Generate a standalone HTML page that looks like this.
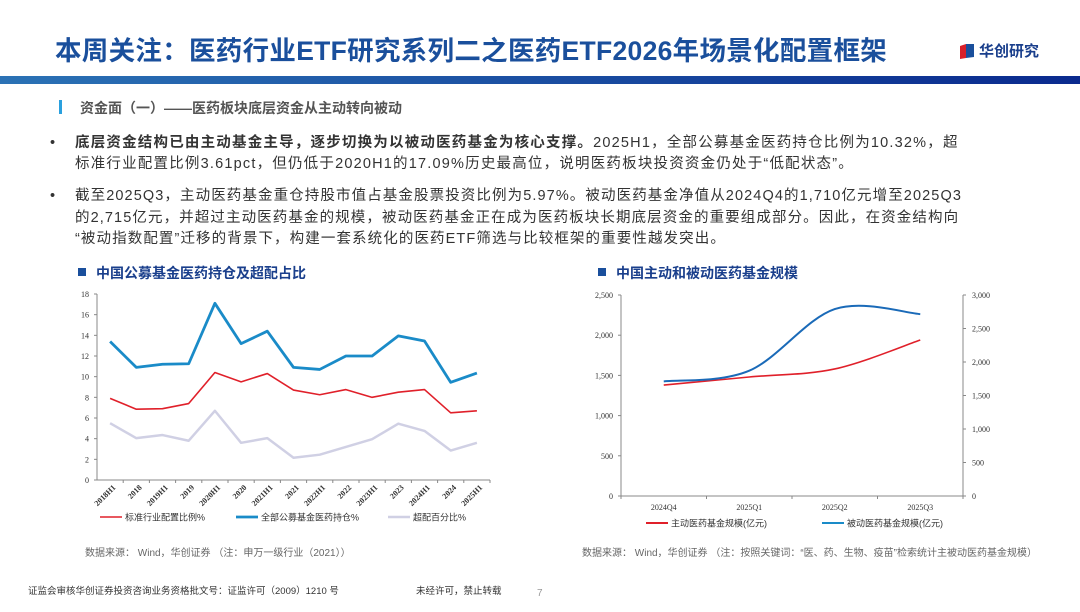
<!DOCTYPE html>
<html><head><meta charset="utf-8">
<style>
body{margin:0;width:1080px;height:612px;overflow:hidden;background:#fff;font-family:"Liberation Sans","Noto Sans CJK SC",sans-serif;position:relative}
.a{position:absolute;white-space:nowrap}
</style></head><body>
<div class="a" style="left:55px;top:29px;font-size:26.5px;font-weight:bold;color:#1a4f9c;letter-spacing:0.3px">本周关注：医药行业ETF研究系列二之医药ETF2026年场景化配置框架</div>
<div class="a" style="left:958px;top:40px;display:flex;align-items:center">
<svg width="18" height="18"><polygon points="2,4 8,2 8,16 2,17" fill="#d9202a"/><polygon points="8,2 16,2 16,15 8,16" fill="#1a4f9c"/></svg>
<span style="font-size:15px;font-weight:bold;color:#1a3f8c;margin-left:3px">华创研究</span></div>
<div class="a" style="left:0;top:76px;width:1080px;height:8px;background:linear-gradient(90deg,#2b72b5,#0a2a8e)"></div>
<div class="a" style="left:59px;top:100px;width:3px;height:14px;background:#2aa0de"></div>
<div class="a" style="left:80px;top:98px;font-size:14px;font-weight:bold;color:#555">资金面（一）——医药板块底层资金从主动转向被动</div>
<div class="a" style="left:50px;top:133px;font-size:14.5px;color:#333;line-height:21px;letter-spacing:1.2px">•<span style="position:absolute;left:25px;top:0">
<b>底层资金结构已由主动基金主导，逐步切换为以被动医药基金为核心支撑。</b>2025H1，全部公募基金医药持仓比例为10.32%，超<br>标准行业配置比例3.61pct，但仍低于2020H1的17.09%历史最高位，说明医药板块投资资金仍处于“低配状态”。</span></div>
<div class="a" style="left:50px;top:186px;font-size:14.5px;color:#333;line-height:21.5px;letter-spacing:1.1px">•<span style="position:absolute;left:25px;top:0">
截至2025Q3，主动医药基金重仓持股市值占基金股票投资比例为5.97%。被动医药基金净值从2024Q4的1,710亿元增至2025Q3<br>的2,715亿元，并超过主动医药基金的规模，被动医药基金正在成为医药板块长期底层资金的重要组成部分。因此，在资金结构向<br>“被动指数配置”迁移的背景下，构建一套系统化的医药ETF筛选与比较框架的重要性越发突出。</span></div>
<div class="a" style="left:78px;top:263px;font-size:14px;font-weight:bold;color:#1a3f8c"><span style="display:inline-block;width:8px;height:8px;background:#1a4f9c;margin-right:10px;vertical-align:2px"></span>中国公募基金医药持仓及超配占比</div>
<div class="a" style="left:598px;top:263px;font-size:14px;font-weight:bold;color:#1a3f8c"><span style="display:inline-block;width:8px;height:8px;background:#1a4f9c;margin-right:10px;vertical-align:2px"></span>中国主动和被动医药基金规模</div>
<svg class="a" style="left:0;top:0" width="1080" height="612" id="svg"></svg>
<div class="a" style="left:85px;top:544px;font-size:10px;color:#666">数据来源： Wind，华创证券 （注：申万一级行业（2021））</div>
<div class="a" style="left:582px;top:544px;font-size:10px;color:#666">数据来源： Wind，华创证券 （注：按照关键词：“医、药、生物、疫苗”检索统计主被动医药基金规模）</div>
<div class="a" style="left:28px;top:583px;font-size:9.5px;color:#333">证监会审核华创证券投资咨询业务资格批文号：证监许可（2009）1210 号</div>
<div class="a" style="left:416px;top:583px;font-size:9.5px;color:#333">未经许可，禁止转载</div>
<div class="a" style="left:537px;top:588px;font-size:10px;color:#999">7</div>
<script>
const cats1=["2018H1","2018","2019H1","2019","2020H1","2020","2021H1","2021","2022H1","2022","2023H1","2023","2024H1","2024","2025H1"];
const blue1=[13.4,10.9,11.2,11.25,17.1,13.2,14.4,10.9,10.7,12,12,13.95,13.45,9.45,10.35];
const red1=[7.9,6.85,6.9,7.4,10.4,9.5,10.3,8.7,8.25,8.75,8.0,8.5,8.75,6.5,6.7];
const gray1=[5.5,4.05,4.35,3.8,6.7,3.6,4.05,2.15,2.45,3.2,3.95,5.45,4.75,2.85,3.6];
const ticks1=[0,2,4,6,8,10,12,14,16,18];
const cats2=["2024Q4","2025Q1","2025Q2","2025Q3"];
const active2=[1380,1480,1580,1940];
const passive2=[1710,1870,2790,2715];
const ticksL2=[0,500,1000,1500,2000,2500];
const ticksR2=[0,500,1000,1500,2000,2500,3000];
const svg=document.getElementById('svg');const NS="http://www.w3.org/2000/svg";
function mk(t,a,txt){const e=document.createElementNS(NS,t);for(const k in a)e.setAttribute(k,a[k]);if(txt!==undefined)e.textContent=txt;svg.appendChild(e);return e;}
const F='"Liberation Serif","Noto Serif CJK SC",serif';
const x0=97,x1=490,yT=294,yB=480;
const bw=(x1-x0)/cats1.length;
const X1=i=>x0+bw*(i+0.5), Y1=v=>yB-(v/18)*(yB-yT);
let e=mk('line',{x1:x0,y1:yT,x2:x0,y2:yB,stroke:'#888','stroke-width':1});

e=mk('line',{x1:x0,y1:yB,x2:x1,y2:yB,stroke:'#888','stroke-width':1});

ticks1.forEach(t=>{mk('line',{x1:x0-3,y1:Y1(t),x2:x0,y2:Y1(t),stroke:'#888'});
e=mk('text',{x:x0-8,y:Y1(t)+3,'font-size':8,'text-anchor':'end','font-family':F,fill:'#333'},t);
});
cats1.forEach((c,i)=>{const xt=x0+bw*(i+1);mk('line',{x1:xt,y1:yB,x2:xt,y2:yB+3,stroke:'#888'});
e=mk('text',{x:X1(i)+6,y:yB+8,'font-size':8,'font-weight':'bold','text-anchor':'end','font-family':F,fill:'#333',transform:`rotate(-45 ${X1(i)+6} ${yB+8})`},c);
});
function line(arr,X,Y,col,w,name){const d=arr.map((v,i)=>(i?'L':'M')+X(i)+' '+Y(v)).join(' ');
const p=mk('path',{d:d,fill:'none',stroke:col,'stroke-width':w,'stroke-linejoin':'round'});
}
line(gray1,X1,Y1,'#d0d0e4',2.5,'series-overweight');
line(red1,X1,Y1,'#e0202a',1.6,'series-standard-allocation');
line(blue1,X1,Y1,'#1a8bc8',2.8,'series-fund-holding');
function leg(x,y,col,w,txt,name){mk('line',{x1:x,y1:y,x2:x+22,y2:y,stroke:col,'stroke-width':w});
e=mk('text',{x:x+25,y:y+3.5,'font-size':9,fill:'#333','font-family':'"Liberation Sans","Noto Sans CJK SC",sans-serif'},txt);
}
leg(100,517,'#e0202a',1.6,'标准行业配置比例%','legend-standard');
leg(236,517,'#1a8bc8',2.8,'全部公募基金医药持仓%','legend-holding');
leg(388,517,'#d0d0e4',2.5,'超配百分比%','legend-overweight');
const a0=621,a1=963,bT=295,bB=496;
const cw=(a1-a0)/4;const X2=i=>a0+cw*(i+0.5);
const YL=v=>bB-(v/2500)*(bB-bT), YR=v=>bB-(v/3000)*(bB-bT);
mk('line',{x1:a0,y1:bT,x2:a0,y2:bB,stroke:'#888'});
mk('line',{x1:a1,y1:bT,x2:a1,y2:bB,stroke:'#888'});
mk('line',{x1:a0,y1:bB,x2:a1,y2:bB,stroke:'#888'});
ticksL2.forEach(t=>{mk('line',{x1:a0-3,y1:YL(t),x2:a0,y2:YL(t),stroke:'#888'});
e=mk('text',{x:a0-8,y:YL(t)+3,'font-size':8,'text-anchor':'end','font-family':F,fill:'#333'},t.toLocaleString('en-US'));
});
ticksR2.forEach(t=>{mk('line',{x1:a1,y1:YR(t),x2:a1+3,y2:YR(t),stroke:'#888'});
e=mk('text',{x:a1+9,y:YR(t)+3,'font-size':8,'font-family':F,fill:'#333'},t.toLocaleString('en-US'));
});
for(let i=0;i<=4;i++)mk('line',{x1:a0+cw*i,y1:bB,x2:a0+cw*i,y2:bB+3,stroke:'#888'});
cats2.forEach((c,i)=>{e=mk('text',{x:X2(i),y:bB+14,'font-size':8,'text-anchor':'middle','font-family':F,fill:'#333'},c);
});
function smooth(arr,X,Y,col,w,name){const P=arr.map((v,i)=>[X(i),Y(v)]);let d='M'+P[0][0]+' '+P[0][1];
for(let i=0;i<P.length-1;i++){const p0=P[i-1]||P[i],p1=P[i],p2=P[i+1],p3=P[i+2]||P[i+1];
d+=` C${p1[0]+(p2[0]-p0[0])/6} ${p1[1]+(p2[1]-p0[1])/6} ${p2[0]-(p3[0]-p1[0])/6} ${p2[1]-(p3[1]-p1[1])/6} ${p2[0]} ${p2[1]}`;}
const p=mk('path',{d:d,fill:'none',stroke:col,'stroke-width':w});
}
smooth(active2,X2,YL,'#e0202a',1.6,'series-active-fund');
smooth(passive2,X2,YR,'#1a6ab8',2,'series-passive-fund');
leg(646,523,'#e0202a',2,'主动医药基金规模(亿元)','legend-active');
leg(822,523,'#1a8bc8',2,'被动医药基金规模(亿元)','legend-passive');
</script>
</body></html>
